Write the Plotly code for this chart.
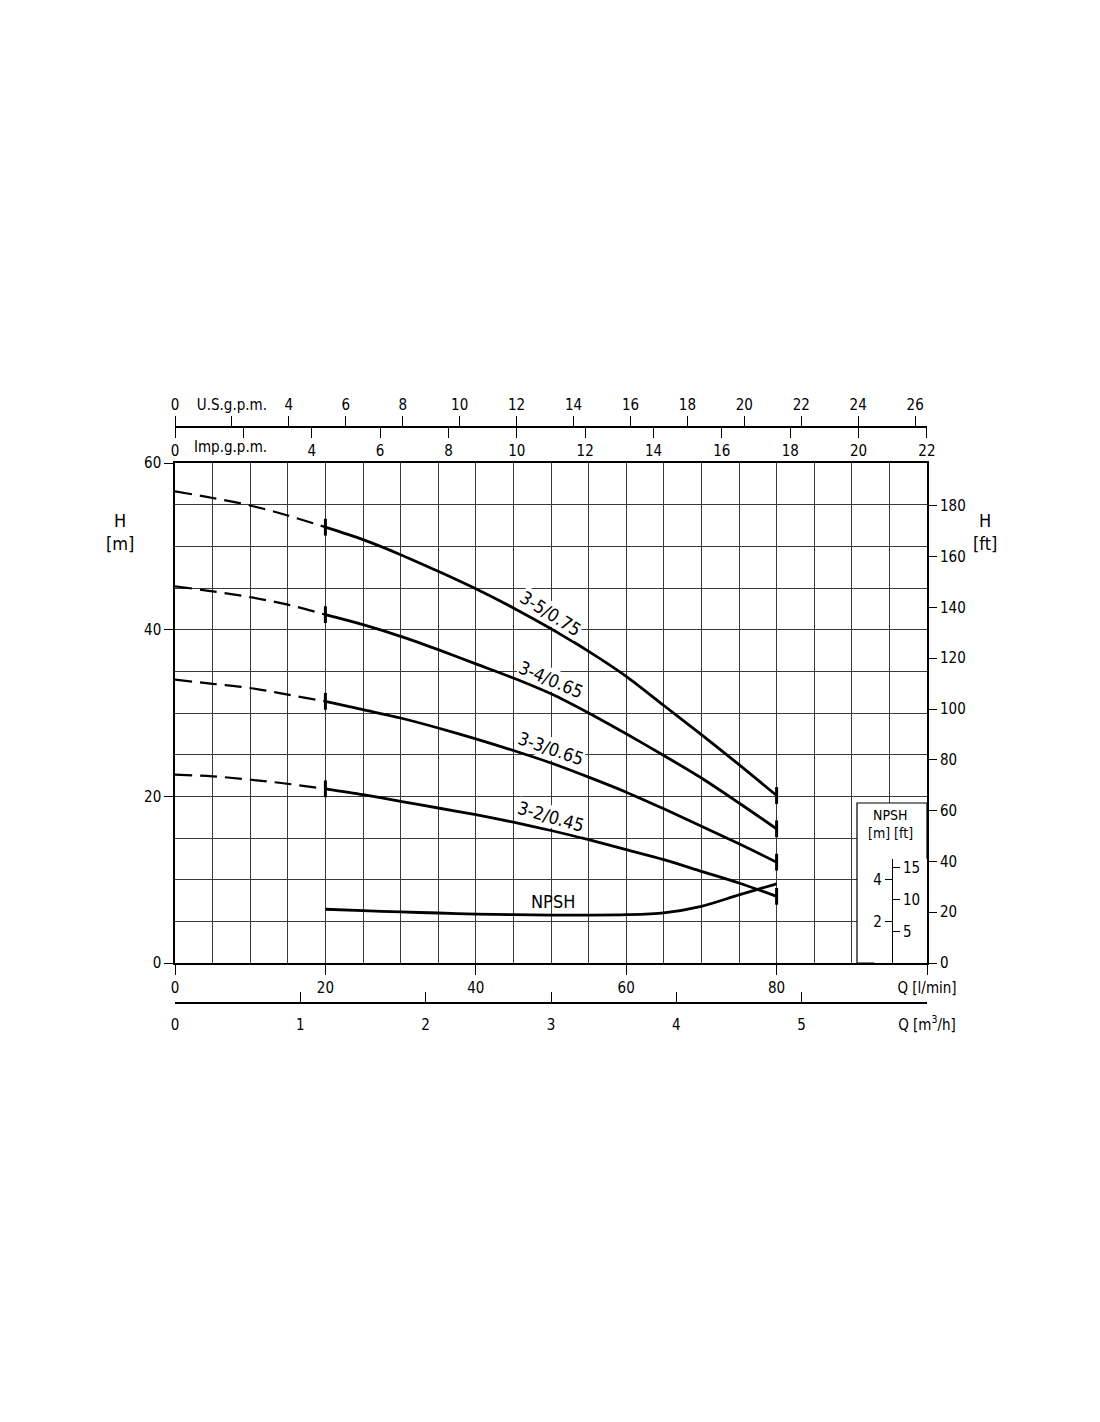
import plotly.graph_objects as go

# ---------------- data ----------------
Q = [0, 5, 10, 15, 20, 25, 30, 35, 40, 45, 50, 55, 60, 65, 70, 75, 80]
H_3_5 = [56.6, 55.8, 54.9, 53.7, 52.3, 50.8, 49.0, 47.0, 44.9, 42.6, 40.1, 37.4, 34.4, 30.9, 27.4, 23.8, 20.1]
H_3_4 = [45.2, 44.6, 43.9, 43.0, 41.8, 40.6, 39.2, 37.6, 35.9, 34.2, 32.3, 30.0, 27.5, 24.9, 22.2, 19.2, 16.1]
H_3_3 = [34.0, 33.5, 33.0, 32.2, 31.4, 30.4, 29.4, 28.2, 26.9, 25.5, 24.0, 22.3, 20.5, 18.5, 16.4, 14.3, 12.1]
H_3_2 = [22.6, 22.4, 22.0, 21.5, 20.9, 20.2, 19.4, 18.6, 17.8, 16.9, 15.9, 14.8, 13.6, 12.4, 11.0, 9.6, 8.0]
curve_names = ["3-5/0.75", "3-4/0.65", "3-3/0.65", "3-2/0.45"]
curves = [H_3_5, H_3_4, H_3_3, H_3_2]
label_x = [50, 50, 50, 50]
label_y = [42.0, 34.0, 25.7, 17.6]
label_angle = [32, 23, 19, 16]
Q_min_duty = 20

NPSH_Q = [20, 25, 30, 35, 40, 45, 50, 55, 60, 65, 70, 75, 80]
NPSH_m = [2.58, 2.51, 2.45, 2.40, 2.35, 2.32, 2.30, 2.30, 2.32, 2.41, 2.72, 3.27, 3.80]

lmin_ticks = [0, 20, 40, 60, 80, 100]
lmin_text = ["0", "20", "40", "60", "80", "Q [l/min]"]
m3h_ticks = [0, 1, 2, 3, 4, 5, 6]
m3h_text = ["0", "1", "2", "3", "4", "5", "Q [m<sup>3</sup>/h]"]
usg_ticks = list(range(0, 27, 2))
usg_text = ["0", "U.S.g.p.m."] + [str(v) for v in range(4, 27, 2)]
impg_ticks = list(range(0, 23, 2))
impg_text = ["0", ""] + [str(v) for v in range(4, 23, 2)]
ft_ticks = list(range(0, 181, 20))
npsh_m_ticks = [2, 4]
npsh_ft_ticks = [5, 10, 15]

# ---------------- figure geometry ----------------
FONT = "Liberation Sans Narrow, DejaVu Sans Condensed, sans-serif"
LFONT = "DejaVu Sans Condensed, Liberation Sans Narrow, sans-serif"
OFF = 8                      # default body margin of the page
W, Hh = 1100 - 2 * OFF, 1422 - 2 * OFF
PW, PH = 752, 660
ML = 175 - OFF               # plot-area left edge in screenshot = 175
MT = 380 - OFF               # paper top edge in screenshot = 380
MR = W - ML - PW
MB = Hh - MT - PH


def py(ypx):   # screenshot y -> paper fraction
    return (MT + OFF + PH - ypx) / PH


def px(xpx):   # screenshot x -> paper fraction
    return (xpx - ML - OFF) / PW


fig = go.Figure()
i20 = Q.index(Q_min_duty)
for H in curves:
    fig.add_trace(go.Scatter(x=Q[:i20 + 1], y=H[:i20 + 1], mode="lines",
                             line=dict(color="black", width=2.2, dash="17px,8px", shape="spline"),
                             showlegend=False, hoverinfo="skip"))
    fig.add_trace(go.Scatter(x=Q[i20:], y=H[i20:], mode="lines",
                             line=dict(color="black", width=2.8, shape="spline", smoothing=0.8),
                             showlegend=False, hoverinfo="skip"))
    fig.add_trace(go.Scatter(x=[Q[i20], Q[-1]], y=[H[i20], H[-1]], mode="markers",
                             marker=dict(symbol="line-ns", size=12, line=dict(color="black", width=3)),
                             showlegend=False, hoverinfo="skip"))

# NPSH curve on its own overlaid scale: 24 m over the full plot height
fig.add_trace(go.Scatter(x=NPSH_Q, y=NPSH_m, mode="lines",
                         line=dict(color="black", width=2.8, shape="spline", smoothing=0.8),
                         yaxis="y3", showlegend=False, hoverinfo="skip"))

# dummy traces so that the auxiliary axes are created
for xa, ya in [("x2", "y"), ("x3", "y"), ("x4", "y"), ("x", "y2"), ("x5", "y4"), ("x5", "y5")]:
    fig.add_trace(go.Scatter(x=[None], y=[None], xaxis=xa, yaxis=ya, showlegend=False, hoverinfo="skip"))

y_dom = [py(963), py(463)]
tickfont = dict(family=FONT, size=15, color="black")
grid_col = "#3a3a3a"

fig.update_layout(
    width=W, height=Hh,
    margin=dict(l=ML, r=MR, t=MT, b=MB, pad=0),
    paper_bgcolor="white", plot_bgcolor="white",
    font=dict(family=FONT, size=15, color="black"),
    xaxis=dict(range=[0, 100], domain=[0, 1], anchor="y", tickmode="array", tickvals=lmin_ticks, ticktext=lmin_text,
               ticks="outside", ticklen=10, tickwidth=1, tickcolor="black", showline=True, linecolor="black",
               linewidth=1.5, mirror=True, showgrid=True, gridcolor=grid_col, gridwidth=1, zeroline=False,
               tickfont=tickfont,
               minor=dict(dtick=5, tick0=0, showgrid=True, gridcolor=grid_col, gridwidth=1, ticks="")),
    yaxis=dict(range=[0, 60], domain=y_dom, anchor="x", dtick=20, tick0=0, ticks="outside", ticklen=9,
               tickcolor="black", showline=True, linecolor="black", linewidth=1.5, mirror=True, showgrid=True,
               gridcolor=grid_col, gridwidth=1, zeroline=False, tickfont=tickfont,
               minor=dict(dtick=5, tick0=0, showgrid=True, gridcolor=grid_col, gridwidth=1, ticks="")),
    yaxis2=dict(range=[0, 60 * 3.28084], overlaying="y", side="right", anchor="x", tickmode="array",
                tickvals=ft_ticks, ticks="outside", ticklen=9, tickcolor="black", showgrid=False, zeroline=False,
                showline=False, tickfont=tickfont),
    yaxis3=dict(range=[0, 24], overlaying="y", visible=False, showgrid=False, zeroline=False),
    xaxis2=dict(range=[0, 100 / 3.78541], overlaying="x", anchor="free", position=py(427), side="top",
                tickmode="array", tickvals=usg_ticks, ticktext=usg_text, ticks="outside", ticklen=10,
                tickcolor="black", showline=True, linecolor="black", linewidth=1.5, showgrid=False, zeroline=False,
                tickfont=tickfont),
    xaxis3=dict(range=[0, 100 / 4.54609 + 0.005], overlaying="x", anchor="free", position=py(427), side="bottom",
                tickmode="array", tickvals=impg_ticks, ticktext=impg_text, ticks="outside", ticklen=10,
                tickcolor="black", showline=False, showgrid=False, zeroline=False, tickfont=tickfont),
    xaxis4=dict(range=[0, 6], overlaying="x", anchor="free", position=py(1003), side="bottom",
                tickmode="array", tickvals=m3h_ticks, ticktext=m3h_text, ticks="inside", ticklen=10,
                tickcolor="black", showline=True, linecolor="black", linewidth=1.5, showgrid=False, zeroline=False,
                tickfont=tickfont, ticklabelstandoff=8),
    xaxis5=dict(range=[0, 1], domain=[0.93, 1.0], anchor="y4", visible=False, showgrid=False, zeroline=False),
    yaxis4=dict(range=[0, 5], domain=[y_dom[0], y_dom[0] + (5 / 24) * (y_dom[1] - y_dom[0])], anchor="free",
                position=px(892), side="left", tickmode="array", tickvals=npsh_m_ticks, ticks="outside", ticklen=7,
                tickcolor="black", showline=True, linecolor="black", linewidth=1.2, showgrid=False, zeroline=False,
                tickfont=dict(family=FONT, size=15, color="black")),
    yaxis5=dict(range=[0, 5 * 3.28084], overlaying="y4", anchor="free", position=px(892), side="right",
                tickmode="array", tickvals=npsh_ft_ticks, ticks="outside", ticklen=7, tickcolor="black",
                showline=False, showgrid=False, zeroline=False, tickfont=dict(family=FONT, size=15, color="black")),
)

# NPSH legend box (white, hides the grid)
fig.add_shape(type="rect", xref="x", yref="y", x0=(857 - 175) / 7.52, x1=100, y0=0, y1=(963 - 803) / 8.333,
              fillcolor="white", line=dict(color="black", width=1.2), layer="between")

ann = []
for name, x, y, a in zip(curve_names, label_x, label_y, label_angle):
    ann.append(dict(x=x, y=y, xref="x", yref="y", text=name, textangle=a, showarrow=False,
                    xanchor="center", yanchor="middle",
                    bgcolor="white", borderpad=0, font=dict(family=LFONT, size=18, color="black")))
ann.append(dict(x=50.3, y=(963 - 901) / 8.333, xref="x", yref="y", text="NPSH", showarrow=False,
                xanchor="center", yanchor="middle", font=dict(family=FONT, size=18, color="black")))
ann.append(dict(x=(230 - 175) / 7.52, y=py(447), xref="x", yref="paper", text="Imp.g.p.m.", showarrow=False,
                xanchor="center", yanchor="middle", font=dict(family=FONT, size=15, color="black")))
for txt, xx, yy in [("H", 120, 520), ("[m]", 120, 543), ("H", 985, 520), ("[ft]", 985, 543),
                    ("NPSH", 890, 815), ("[m] [ft]", 890, 833)]:
    ann.append(dict(x=px(xx), y=py(yy), xref="paper", yref="paper", text=txt, showarrow=False,
                    xanchor="center", yanchor="middle",
                    font=dict(family=FONT, size=18 if txt in ("H", "[m]", "[ft]") else 14, color="black")))
fig.update_layout(annotations=ann)

fig.write_html("out.html")
